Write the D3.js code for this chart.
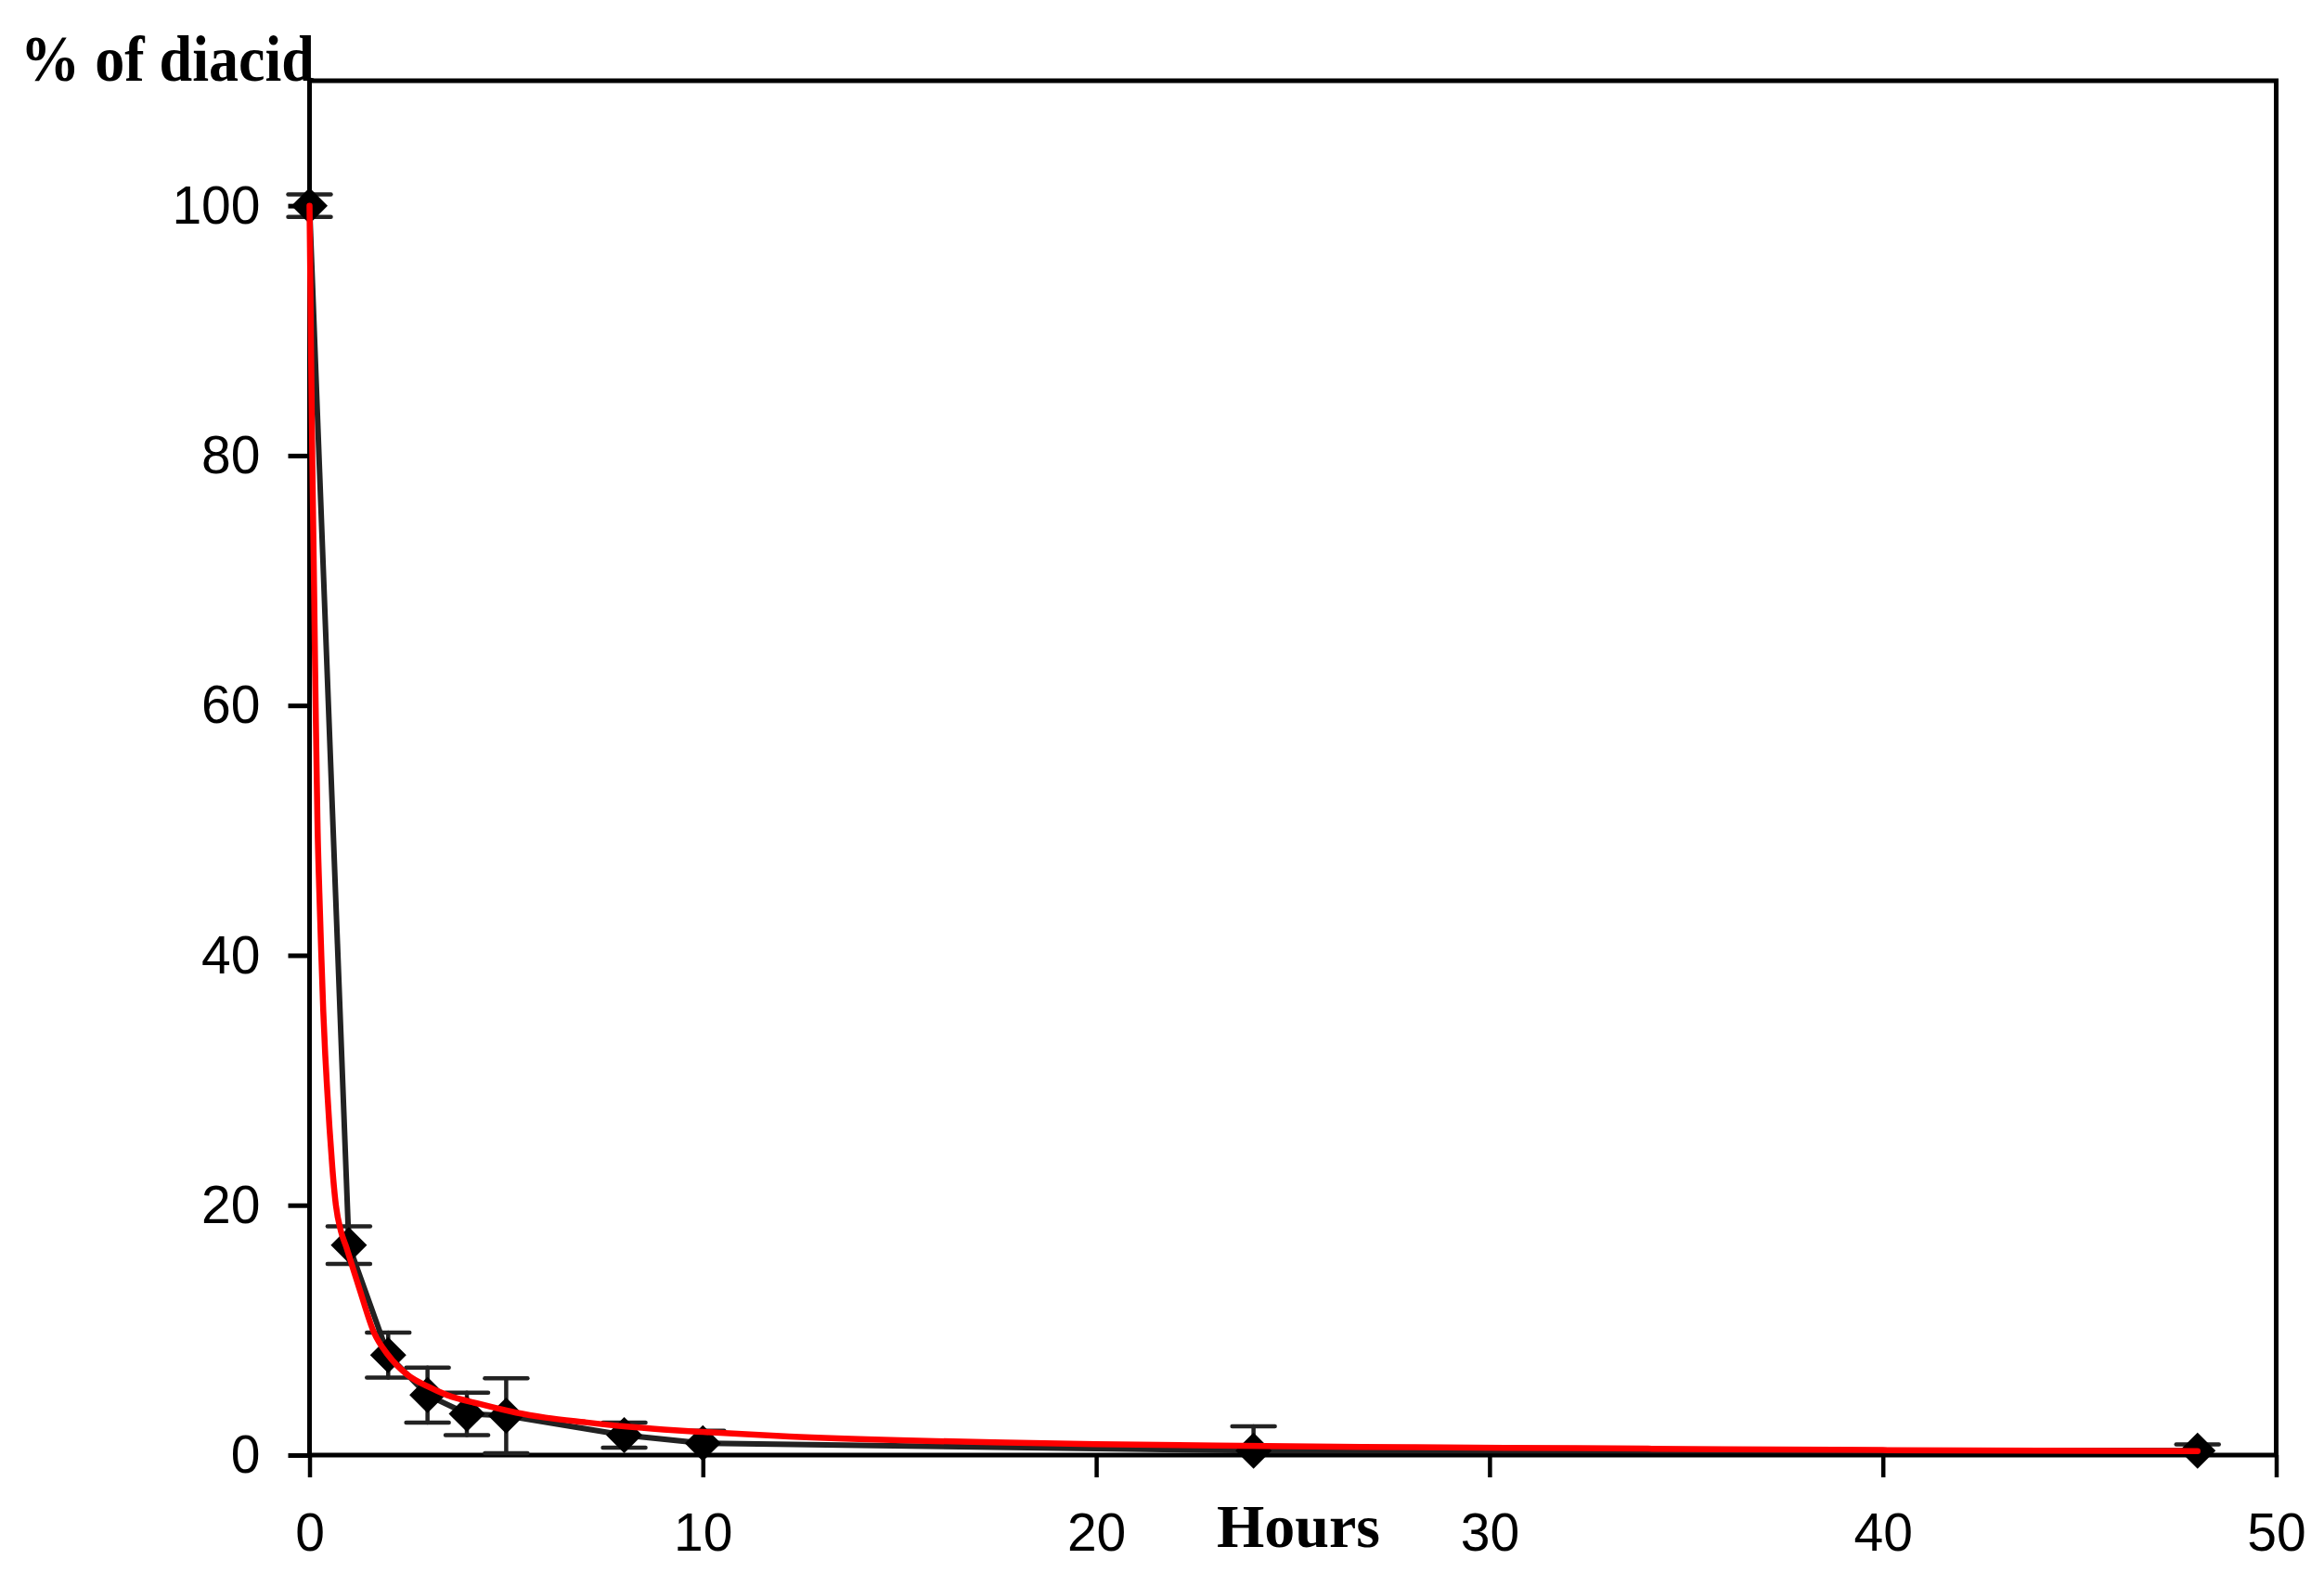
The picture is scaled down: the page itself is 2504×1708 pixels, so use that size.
<!DOCTYPE html>
<html>
<head>
<meta charset="utf-8">
<script src="https://cdn.jsdelivr.net/npm/d3@7"></script>
<style>
  html, body { margin: 0; padding: 0; background: #fff; }
  svg { display: block; }
</style>
</head>
<body>
<svg id="chart" width="2504" height="1708"></svg>
<script>
// ---- data ----
const hours   = [0, 1, 2, 3, 4, 5, 8, 10, 24, 48];
const diacid  = [100, 16.8, 8.0, 4.8, 3.3, 3.15, 1.6, 0.95, 0.35, 0.35];
const errors  = [0.9, 1.5, 1.8, 2.2, 1.7, 3.0, 1.0, 1.0, 1.95, 0.5];

// fitted curve (red)
const fitHours = [0, 0.02, 0.04, 0.06, 0.08, 0.10, 0.12, 0.14, 0.16, 0.18, 0.20, 0.25, 0.30, 0.35, 0.40, 0.45, 0.51, 0.58, 0.67, 0.80, 0.94, 1.0, 1.28, 1.64, 2.0, 2.5, 3.0, 3.5, 4.35, 5.25, 6, 7, 8, 9, 10, 12.2, 15, 17.7, 20, 23.7, 28, 32.2, 36, 40, 44, 48];
const fitValues = [100, 94, 88, 82.5, 77.5, 73, 68.5, 63.5, 59, 55, 51, 45, 40, 35.5, 32, 29.2, 26.1, 23, 20, 17.9, 16.6, 16.0, 13.2, 9.8, 8.0, 6.4, 5.5, 4.8, 4.07, 3.4, 3.0, 2.63, 2.3, 2.05, 1.85, 1.48, 1.18, 1.0, 0.88, 0.74, 0.63, 0.55, 0.47, 0.4, 0.36, 0.32];

const xTicks = [0, 10, 20, 30, 40, 50];
const yTicks = [0, 20, 40, 60, 80, 100];
const xTitle = "Hours";
const yTitle = "% of diacid";

// ---- layout ----
const mLeft = 333.5, mRight = 2452.5, mTop = 87, mBottom = 1568;
const svg = d3.select("#chart");

const x = d3.scaleLinear().domain([0, 50]).range([mLeft, mRight]);
const y = d3.scaleLinear().domain([0, 110]).range([mBottom, mTop]);

const tickFont = "'Liberation Sans', Arial, sans-serif";
const titleFont = "'Liberation Serif', 'Times New Roman', serif";

// axes
const gx = svg.append("g").attr("transform", `translate(0,${mBottom})`)
  .call(d3.axisBottom(x).tickValues(xTicks).tickFormat(d3.format("d")).tickSize(24).tickSizeOuter(0));
gx.select(".domain").remove();
gx.selectAll(".tick line").attr("stroke", "#000").attr("stroke-width", 4.5);
gx.selectAll(".tick text").attr("y", 103).attr("dy", null)
  .attr("font-family", tickFont).attr("font-size", 57).attr("fill", "#000");

const gy = svg.append("g").attr("transform", `translate(${mLeft},0)`)
  .call(d3.axisLeft(y).tickValues(yTicks).tickFormat(d3.format("d")).tickSize(23).tickSizeOuter(0));
gy.select(".domain").remove();
gy.selectAll(".tick line").attr("stroke", "#000").attr("stroke-width", 5);
gy.selectAll(".tick text").attr("x", -53).attr("dy", "0.33em")
  .attr("font-family", tickFont).attr("font-size", 57).attr("fill", "#000");

// frame
svg.append("rect")
  .attr("x", mLeft).attr("y", mTop)
  .attr("width", mRight - mLeft).attr("height", mBottom - mTop)
  .attr("fill", "none").attr("stroke", "#000").attr("stroke-width", 5);

const pts = hours.map((h, i) => ({ h, v: diacid[i], e: errors[i] }));

// error bars
const eg = svg.append("g").attr("stroke", "#222").attr("stroke-width", 4.5).attr("stroke-linecap", "round");
const capHalf = 23;
pts.forEach(p => {
  const lo = Math.max(0, p.v - p.e), hi = p.v + p.e;
  eg.append("line").attr("x1", x(p.h)).attr("x2", x(p.h)).attr("y1", y(lo)).attr("y2", y(hi));
  eg.append("line").attr("x1", x(p.h) - capHalf).attr("x2", x(p.h) + capHalf).attr("y1", y(hi)).attr("y2", y(hi));
  if (p.v - p.e > 0) {
    eg.append("line").attr("x1", x(p.h) - capHalf).attr("x2", x(p.h) + capHalf).attr("y1", y(lo)).attr("y2", y(lo));
  }
});

// black data line
svg.append("path")
  .datum(pts)
  .attr("fill", "none").attr("stroke", "#222").attr("stroke-width", 6)
  .attr("stroke-linejoin", "round")
  .attr("d", d3.line().x(d => x(d.h)).y(d => y(d.v)));

// diamond markers
const dHalf = 19.5;
svg.append("g").selectAll("path").data(pts).join("path")
  .attr("fill", "#000")
  .attr("d", d => {
    const cx = x(d.h), cy = y(d.v);
    return `M${cx},${cy - dHalf}L${cx + dHalf},${cy}L${cx},${cy + dHalf}L${cx - dHalf},${cy}Z`;
  });

// red fitted curve
const fit = fitHours.map((h, i) => ({ h, v: fitValues[i] }));
svg.append("path")
  .datum(fit)
  .attr("fill", "none").attr("stroke", "#ff0000").attr("stroke-width", 6.5)
  .attr("stroke-linecap", "round").attr("stroke-linejoin", "round")
  .attr("d", d3.line().curve(d3.curveMonotoneX).x(d => x(d.h)).y(d => y(d.v)));

// titles
svg.append("text")
  .attr("x", 22).attr("y", 87)
  .attr("font-family", titleFont).attr("font-weight", "bold").attr("font-size", 69)
  .attr("textLength", 317).attr("lengthAdjust", "spacingAndGlyphs")
  .attr("fill", "#000")
  .text(yTitle);

svg.append("text")
  .attr("x", 1399).attr("y", 1667)
  .attr("text-anchor", "middle")
  .attr("font-family", titleFont).attr("font-weight", "bold").attr("font-size", 66)
  .attr("fill", "#000")
  .text(xTitle);
</script>
</body>
</html>
